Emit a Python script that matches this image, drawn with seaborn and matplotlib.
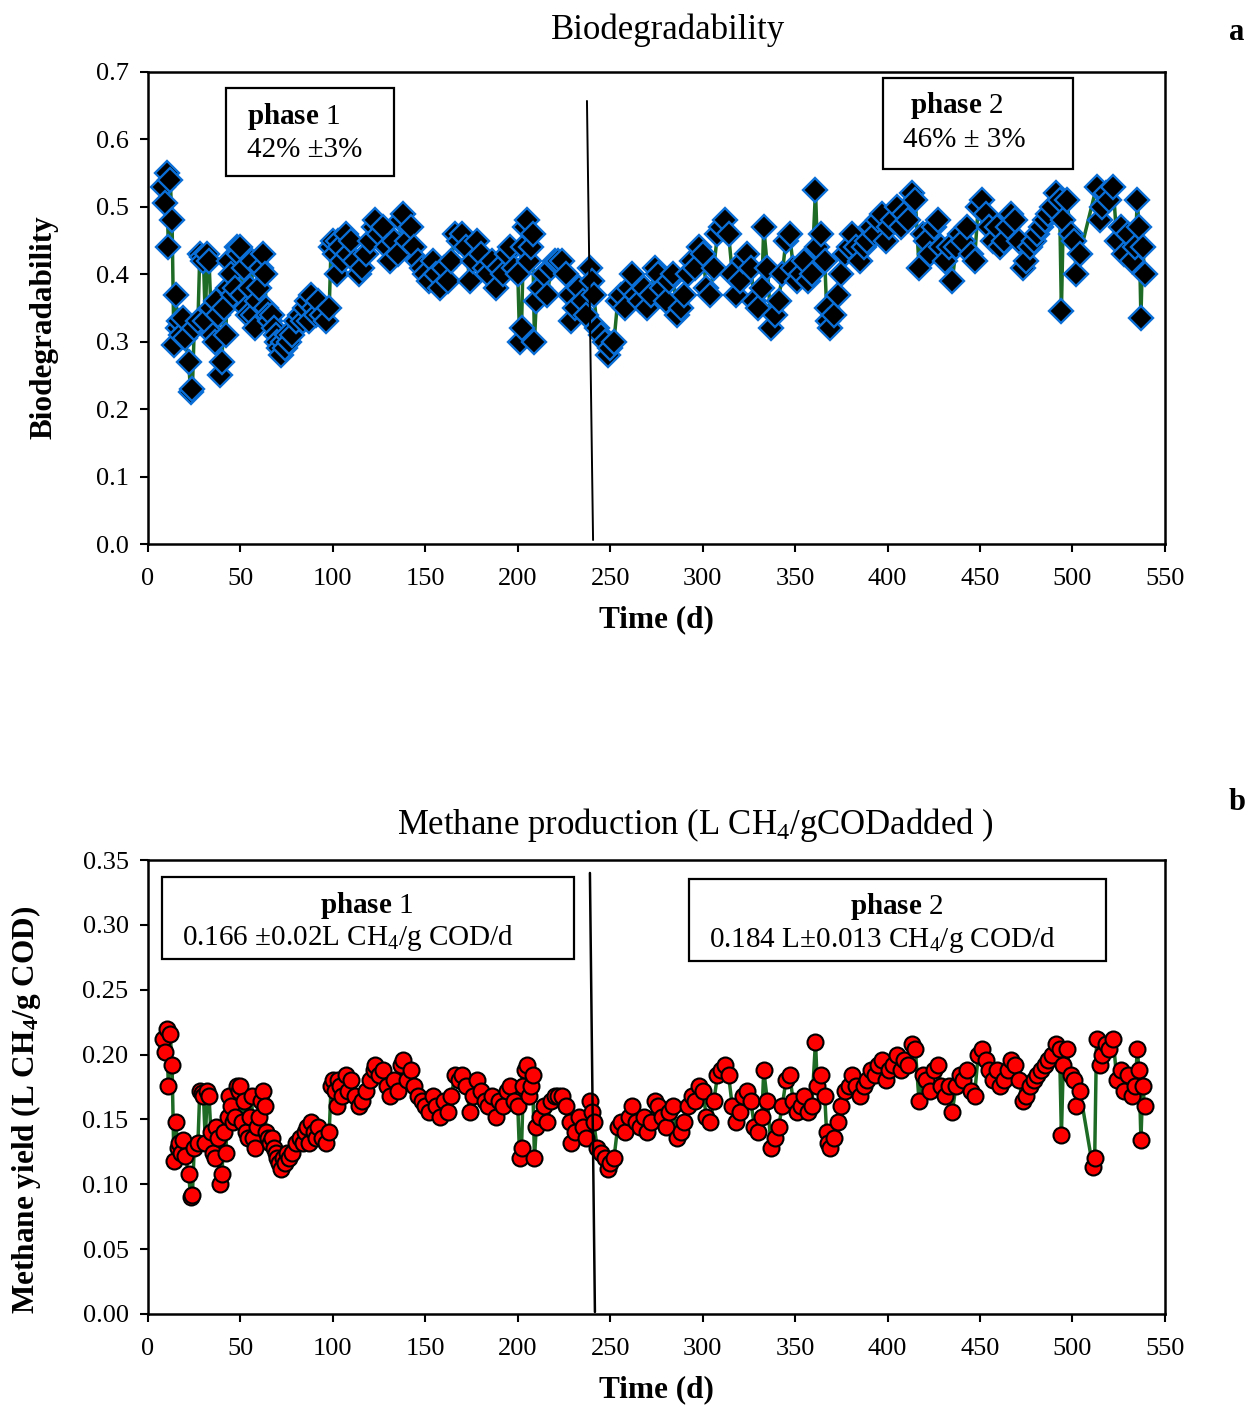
import numpy as np
import pandas as pd
import matplotlib
matplotlib.use("Agg")
import matplotlib.pyplot as plt
import seaborn as sns
from matplotlib.patches import Rectangle

# Datos (dia, biodegradabilidad, metano)
days = [8, 9, 10, 11, 12, 13, 14, 15, 16, 17,
        18, 19, 20, 22, 23, 24, 25, 27, 28, 29,
        30, 31, 32, 33, 34, 35, 36, 37, 38, 39,
        40, 41, 42, 43, 44, 45, 46, 47, 48, 49,
        50, 51, 52, 53, 54, 55, 56, 57, 58, 59,
        60, 61, 62, 63, 64, 65, 66, 67, 68, 69,
        70, 71, 72, 73, 74, 75, 76, 78, 80, 82,
        84, 85, 86, 87, 88, 90, 91, 92, 94, 96,
        98, 99, 100, 101, 102, 103, 104, 105, 107, 108,
        110, 112, 114, 116, 118, 120, 122, 123, 125, 127,
        129, 131, 133, 135, 137, 138, 140, 142, 144, 146,
        148, 150, 152, 154, 156, 158, 160, 162, 164, 166,
        168, 170, 172, 174, 176, 178, 180, 182, 184, 186,
        188, 190, 192, 194, 196, 198, 200, 201, 202, 203,
        204, 205, 206, 207, 208, 209, 210, 212, 214, 216,
        218, 220, 222, 224, 226, 228, 229, 231, 233, 235,
        237, 239, 240, 241, 243, 245, 247, 249, 250, 252,
        254, 256, 258, 260, 262, 264, 266, 268, 270, 272,
        274, 276, 278, 280, 282, 284, 286, 288, 290, 292,
        294, 296, 298, 300, 302, 304, 306, 308, 310, 312,
        314, 316, 318, 320, 322, 324, 326, 328, 330, 332,
        333, 335, 337, 339, 341, 343, 345, 347, 349, 351,
        353, 355, 357, 359, 361, 362, 364, 366, 367, 368,
        369, 371, 373, 375, 377, 379, 381, 383, 385, 387,
        389, 391, 393, 395, 397, 399, 401, 403, 405, 407,
        409, 411, 413, 415, 417, 419, 421, 423, 425, 427,
        429, 431, 433, 435, 437, 439, 441, 443, 445, 447,
        449, 451, 453, 455, 457, 459, 461, 463, 465, 467,
        469, 471, 473, 475, 477, 479, 481, 483, 485, 487,
        489, 491, 493, 494, 495, 497, 499, 501, 502, 504,
        511, 512, 513, 515, 516, 518, 520, 522, 524, 526,
        528, 530, 532, 534, 535, 536, 537, 538, 539]

nan = np.nan
biodeg = [.53, .505, .55, .44, .54, .48, .295, .37, .32, .33,
          .31, .335, .305, .27, .225, .23, .32, .33, .43, .425,
          .42, .33, .43, .42, .35, .31, .30, .36, .34, .25,
          .27, .35, .31, .38, .42, .40, .37, .38, .44, .43,
          .44, .37, .41, .35, .34, .38, .42, .34, .32, .36,
          .38, .41, .43, .40, .35, .34, .33, .34, .32, .31,
          .30, .29, .28, .30, .29, .31, .30, .31, .33, .34,
          .33, .35, .36, .33, .37, .35, .34, .36, .34, .33,
          .35, .44, .45, .43, .40, .45, .44, .42, .46, .43,
          .45, .42, .40, .41, .43, .45, .47, .48, .46, .47,
          .44, .42, .45, .43, .48, .49, .45, .47, .44, .42,
          .41, .40, .39, .42, .40, .38, .41, .39, .42, .46,
          .45, .46, .44, .39, .42, .45, .43, .41, .40, .42,
          .38, .41, .40, .43, .44, .41, .40, .30, .32, .44,
          .47, .48, .42, .44, .46, .30, .36, .38, .40, .37,
          .41, .42, .42, .42, .40, .37, .33, .35, .38, .36,
          .34, .41, .39, .37, .32, .31, .30, .28, .29, .30,
          .36, .37, .35, .38, .40, .37, .36, .38, .35, .37,
          .41, .40, .38, .36, .39, .40, .34, .35, .37, .40,
          .42, .41, .44, .43, .38, .37, .41, .46, .47, .48,
          .46, .40, .37, .39, .42, .43, .41, .36, .35, .38,
          .47, .41, .32, .34, .36, .40, .45, .46, .41, .39,
          .40, .42, .39, .40, .525, .44, .46, .42, .35, .33,
          .32, .34, .37, .40, .43, .44, .46, .44, .42, .44,
          .45, .47, .46, .48, .49, .45, .47, .48, .50, .47,
          .49, .48, .52, .51, .41, .46, .45, .43, .47, .48,
          .44, .42, .44, .39, .44, .46, .45, .47, .43, .42,
          .50, .51, .49, .47, .45, .47, .44, .45, .47, .49,
          .48, .45, .41, .42, .44, .45, .46, .47, .48, .49,
          .50, .52, .51, .345, .48, .51, .46, .45, .40, .43,
          nan, nan, .53, .48, .50, .52, .51, .53, .45, .47,
          .43, .46, .42, .44, .51, .47, .335, .44, .40]

methane = [.212, .202, .220, .176, .216, .192, .118, .148, .128, .132,
           .124, .134, .122, .108, .090, .092, .128, .132, .172, .170,
           .168, .132, .172, .168, .140, .124, .120, .144, .136, .100,
           .108, .140, .124, .152, .168, .160, .148, .152, .176, .172,
           .176, .148, .164, .140, .136, .152, .168, .136, .128, .144,
           .152, .164, .172, .160, .140, .136, .132, .136, .128, .124,
           .120, .116, .112, .120, .116, .124, .120, .124, .132, .136,
           .132, .140, .144, .132, .148, .140, .136, .144, .136, .132,
           .140, .176, .180, .172, .160, .180, .176, .168, .184, .172,
           .180, .168, .160, .164, .172, .180, .188, .192, .184, .188,
           .176, .168, .180, .172, .192, .196, .180, .188, .176, .168,
           .164, .160, .156, .168, .160, .152, .164, .156, .168, .184,
           .180, .184, .176, .156, .168, .180, .172, .164, .160, .168,
           .152, .164, .160, .172, .176, .164, .160, .120, .128, .176,
           .188, .192, .168, .176, .184, .120, .144, .152, .160, .148,
           .164, .168, .168, .168, .160, .148, .132, .140, .152, .144,
           .136, .164, .156, .148, .128, .124, .120, .112, .116, .120,
           .144, .148, .140, .152, .160, .148, .144, .152, .140, .148,
           .164, .160, .152, .144, .156, .160, .136, .140, .148, .160,
           .168, .164, .176, .172, .152, .148, .164, .184, .188, .192,
           .184, .160, .148, .156, .168, .172, .164, .144, .140, .152,
           .188, .164, .128, .136, .144, .160, .180, .184, .164, .156,
           .160, .168, .156, .160, .210, .176, .184, .168, .140, .132,
           .128, .136, .148, .160, .172, .176, .184, .176, .168, .176,
           .180, .188, .184, .192, .196, .180, .188, .192, .200, .188,
           .196, .192, .208, .204, .164, .184, .180, .172, .188, .192,
           .176, .168, .176, .156, .176, .184, .180, .188, .172, .168,
           .200, .204, .196, .188, .180, .188, .176, .180, .188, .196,
           .192, .180, .164, .168, .176, .180, .184, .188, .192, .196,
           .200, .208, .204, .138, .192, .204, .184, .180, .160, .172,
           .113, .120, .212, .192, .200, .208, .204, .212, .180, .188,
           .172, .184, .168, .176, .204, .188, .134, .176, .160]

# Linea de separacion entre fases (dia, valor)
split_a_x = [237.4, 240.7]
split_a_y = [0.657, 0.006]
split_b_x = [239.0, 241.7]
split_b_y = [0.340, 0.0015]

df = pd.DataFrame({"day": days, "biodeg": biodeg, "methane": methane})

sns.set_style("ticks")
plt.rcParams["font.family"] = ["Liberation Serif", "DejaVu Serif"]
plt.rcParams["mathtext.fontset"] = "custom"
plt.rcParams["mathtext.rm"] = "Liberation Serif"
plt.rcParams["mathtext.it"] = "Liberation Serif:italic"
plt.rcParams["mathtext.bf"] = "Liberation Serif:bold"
plt.rcParams["text.color"] = "black"
plt.rcParams["axes.labelcolor"] = "black"

fig = plt.figure(figsize=(12.47, 14.08), dpi=100)
ax1 = fig.add_axes([0.1187, 0.6136, 0.8155, 0.3353])
ax2 = fig.add_axes([0.1187, 0.0668, 0.8155, 0.3224])

green = "#1d6b24"

sns.lineplot(data=df, x="day", y="biodeg", ax=ax1, color=green, linewidth=2.5,
             marker="D", markersize=12, markerfacecolor="black",
             markeredgecolor="#0a6fd6", markeredgewidth=1.7, errorbar=None)
sns.lineplot(data=df, x="day", y="methane", ax=ax2, color=green, linewidth=2.5,
             marker="o", markersize=11.5, markerfacecolor="#ff0000",
             markeredgecolor="black", markeredgewidth=1.5, errorbar=None)

ax1.plot(split_a_x, split_a_y, color="black", lw=1.4)
ax2.plot(split_b_x, split_b_y, color="black", lw=1.8)

# Ejes
for ax in (ax1, ax2):
    ax.set_xlim(0, 550)
    ax.set_xticks(range(0, 551, 50))
    for s in ax.spines.values():
        s.set_visible(True)
        s.set_linewidth(1.8)
        s.set_color("black")
    ax.tick_params(axis="both", direction="out", length=6, width=1.5,
                   labelsize=19, colors="black")
    ax.tick_params(axis="x", pad=11)
    ax.tick_params(axis="y", pad=8)
    ax.set_xlabel("Time (d)", fontsize=22.5, fontweight="bold")

ax1.set_ylim(0, 0.7)
ax1.set_yticks(np.arange(0, 0.71, 0.1))
ax1.set_yticklabels([f"{v:.1f}" for v in np.arange(0, 0.71, 0.1)])
ax2.set_ylim(0, 0.35)
ax2.set_yticks(np.arange(0, 0.351, 0.05))
ax2.set_yticklabels([f"{v:.2f}" for v in np.arange(0, 0.351, 0.05)])

ax1.set_ylabel("Biodegradability", fontsize=22.5, fontweight="bold")
ax2.set_ylabel(r"Methane yield (L $\mathbf{CH_4}$/g COD)", fontsize=22.5, fontweight="bold")
ax1.yaxis.set_label_coords(-0.0885, 0.459)
ax2.yaxis.set_label_coords(-0.103, 0.449)
ax1.xaxis.set_label_coords(0.5, -0.129)
ax2.xaxis.set_label_coords(0.5, -0.134)

# Titulos
fig.text(668 / 1247, 1 - 30 / 1408, "Biodegradability", fontsize=25,
         ha="center", va="center")
fig.text(695 / 1247, 1 - 825 / 1408, r"Methane production (L CH$_4$/gCODadded )",
         fontsize=25, ha="center", va="center")
fig.text(1237 / 1247, 1 - 33 / 1408, "a", fontsize=22, fontweight="bold",
         ha="center", va="center")
fig.text(1237 / 1247, 1 - 803 / 1408, "b", fontsize=22, fontweight="bold",
         ha="center", va="center")

# Cuadros de fase
def box(ax, x0, x1, y0, y1):
    ax.add_patch(Rectangle((x0, y0), x1 - x0, y1 - y0, fill=False,
                           edgecolor="black", linewidth=1.6, zorder=5))

box(ax1, 42.2, 133.0, 0.546, 0.6766)
ax1.text(53.5, 0.6335, r"$\mathbf{phase}$ 1", fontsize=21, va="center")
ax1.text(53.5, 0.5846, "42% \u00b13%", fontsize=21, va="center")

box(ax1, 397.5, 500.3, 0.5564, 0.6914)
ax1.text(412.1, 0.650, r"$\mathbf{phase}$ 2", fontsize=21, va="center")
ax1.text(408.3, 0.5994, "46% \u00b1 3%", fontsize=21, va="center")

box(ax2, 7.6, 230.4, 0.2737, 0.3369)
ax2.text(118.4, 0.3153, r"$\mathbf{phase}$ 1", fontsize=21, ha="center", va="center")
ax2.text(18.4, 0.2899, r"0.166 $\pm$0.02L CH$_4$/g COD/d", fontsize=21, va="center")

box(ax2, 292.6, 518.1, 0.2722, 0.3354)
ax2.text(405.1, 0.3138, r"$\mathbf{phase}$ 2", fontsize=21, ha="center", va="center")
ax2.text(303.4, 0.2884, r"0.184 L$\pm$0.013 CH$_4$/g COD/d", fontsize=21, va="center")

fig.savefig("out.png", dpi=100)
